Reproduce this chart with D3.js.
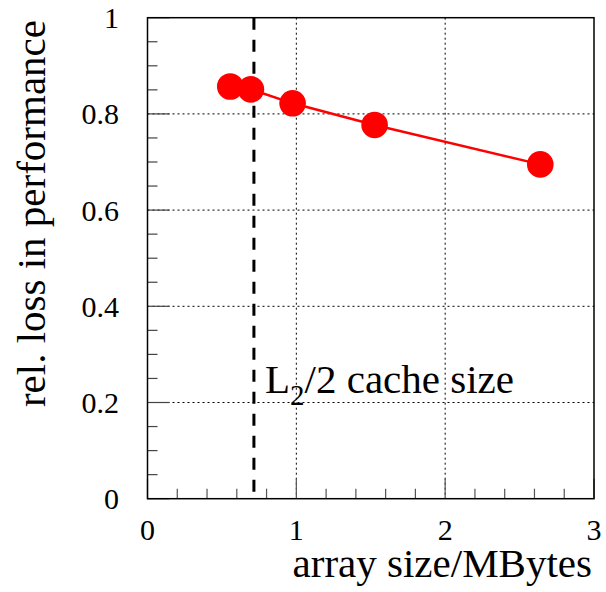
<!DOCTYPE html>
<html>
<meta charset="utf-8">
<style>
body { margin: 0; background: #fff; }
text { font-family: "Liberation Serif", "DejaVu Serif", serif; fill: #000; }
.grid line { stroke: #000; stroke-width: 1; stroke-dasharray: 2,3; }
</style>
<body>
<svg id="chart" width="606" height="592"></svg>
<script src="https://d3js.org/d3.v7.min.js"></script>
<script>
// array size in MBytes and relative loss in performance
var arraySize = [0.556, 0.695, 0.975, 1.526, 2.639];
var relLoss = [0.857, 0.851, 0.822, 0.777, 0.695];
var xTicks = [0, 1, 2, 3];
var yTicks = [0, 0.2, 0.4, 0.6, 0.8, 1];
var yTickLabels = ["0", "0.2", "0.4", "0.6", "0.8", "1"];
var cacheLine = 0.715; // L2/2 cache size

var svg = d3.select("#chart");
var padL = 147.5, padR = 594, padT = 17.7, padB = 498.7;

var x = d3.scaleLinear().domain([0, 3]).range([padL, padR]);
var y = d3.scaleLinear().domain([0, 1]).range([padB, padT]);

// grid
var grid = svg.append("g").attr("class", "grid");
grid.selectAll(".gx").data([1, 2]).enter().append("line")
  .attr("x1", function(d) { return x(d); }).attr("x2", function(d) { return x(d); })
  .attr("y1", padT).attr("y2", padB);
grid.selectAll(".gy").data([0.2, 0.4, 0.6, 0.8]).enter().append("line")
  .attr("x1", padL).attr("x2", padR)
  .attr("y1", function(d) { return y(d); }).attr("y2", function(d) { return y(d); });

// minor + major ticks, ROOT style (inside the frame)
var xMinor = d3.range(0, 3.001, 0.2);
svg.append("g").selectAll("line").data(xMinor).enter().append("line")
  .attr("x1", function(d) { return x(d); }).attr("x2", function(d) { return x(d); })
  .attr("y1", padB).attr("y2", function(d) { return Math.abs(d - Math.round(d)) < 1e-6 ? padB - 20 : padB - 10; })
  .attr("stroke", "#555").attr("stroke-width", 1.2);
var yMinor = d3.range(0, 1.001, 0.05);
svg.append("g").selectAll("line").data(yMinor).enter().append("line")
  .attr("y1", function(d) { return y(d); }).attr("y2", function(d) { return y(d); })
  .attr("x1", padL).attr("x2", function(d) { return Math.abs(d * 5 - Math.round(d * 5)) < 1e-6 ? padL + 22 : padL + 10; })
  .attr("stroke", "#444").attr("stroke-width", 1.2);

// frame
svg.append("rect")
  .attr("x", padL).attr("y", padT).attr("width", padR - padL).attr("height", padB - padT)
  .attr("fill", "none").attr("stroke", "#000").attr("stroke-width", 1.5);

// tick labels
svg.append("g").selectAll("text").data(xTicks).enter().append("text")
  .attr("x", function(d) { return x(d); }).attr("y", 540)
  .attr("text-anchor", "middle").attr("font-size", 30)
  .text(function(d) { return d; });
svg.append("g").selectAll("text").data(yTicks).enter().append("text")
  .attr("x", 119).attr("y", function(d) { return y(d); }).attr("dy", "0.35em")
  .attr("text-anchor", "end").attr("font-size", 30)
  .text(function(d, i) { return yTickLabels[i]; });

// axis titles
svg.append("text")
  .attr("x", 592).attr("y", 577).attr("text-anchor", "end").attr("font-size", 41)
  .text("array size/MBytes");
svg.append("text")
  .attr("transform", "translate(45,20) rotate(-90)").attr("text-anchor", "end").attr("font-size", 41)
  .text("rel. loss in performance");

// cache size line
svg.append("line")
  .attr("x1", x(cacheLine)).attr("x2", x(cacheLine))
  .attr("y1", padT).attr("y2", padB)
  .attr("stroke", "#000").attr("stroke-width", 3).attr("stroke-dasharray", "12,10");

var lbl = svg.append("text").attr("x", 265).attr("y", 393).attr("font-size", 41);
lbl.append("tspan").text("L");
lbl.append("tspan").attr("font-size", 29).attr("dy", 12).text("2");
lbl.append("tspan").attr("dy", -12).text("/2 cache size");

// data
var line = d3.line()
  .x(function(d, i) { return x(arraySize[i]); })
  .y(function(d, i) { return y(relLoss[i]); });
svg.append("path").datum(relLoss)
  .attr("d", line).attr("fill", "none").attr("stroke", "#ff0000").attr("stroke-width", 2.5);
svg.append("g").selectAll("circle").data(relLoss).enter().append("circle")
  .attr("cx", function(d, i) { return x(arraySize[i]); })
  .attr("cy", function(d) { return y(d); })
  .attr("r", 13.3).attr("fill", "#ff0000");
</script>
</body>
</html>
